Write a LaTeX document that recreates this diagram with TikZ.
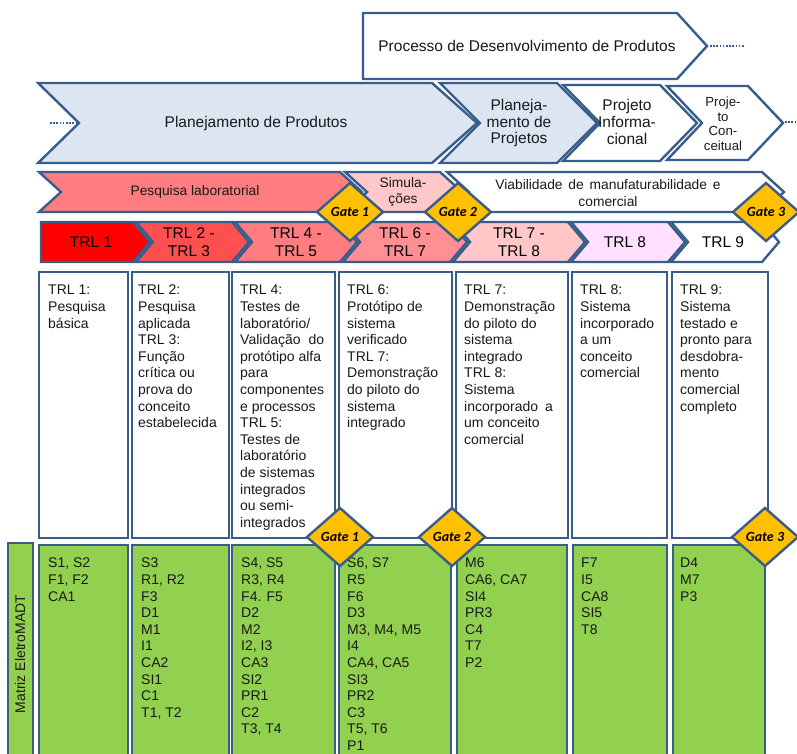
\documentclass[tikz,border=0pt]{standalone}
\usepackage{fontspec}
\setmainfont{Liberation Sans}
\newfontfamily\gatefont{Carlito}
\definecolor{bdr}{RGB}{56,93,138}
\definecolor{lblue}{RGB}{220,230,242}
\definecolor{salmon}{RGB}{255,124,128}
\definecolor{lpink}{RGB}{255,199,199}
\definecolor{trlA}{RGB}{255,0,0}
\definecolor{trlB}{RGB}{255,80,80}
\definecolor{trlC}{RGB}{255,124,128}
\definecolor{trlD}{RGB}{255,143,146}
\definecolor{trlE}{RGB}{255,199,199}
\definecolor{trlF}{RGB}{255,224,255}
\definecolor{gold}{RGB}{255,192,0}
\definecolor{lgreen}{RGB}{146,208,80}
\definecolor{txt}{RGB}{25,25,25}
\newcommand\chevron[7]{\path[bd,fill=#1] (#2,#6) -- (#4,#6) -- (#4+#5,{(#6+#7)/2}) -- (#4,#7) -- (#2,#7) -- (#2+#3,{(#6+#7)/2}) -- cycle;}
\newcommand\gatemark[4]{\path[bd,fill=gold] (#1-33,#2) -- (#1,#2-29) -- (#1+33,#2) -- (#1,#2+29) -- cycle;
  \node[gatetxt] (#3) at (#1,#2) {#4};}
\begin{document}
\begin{tikzpicture}[x=1pt,y=-1pt,
  bd/.style={draw=bdr,line width=2.4pt,line join=miter,miter limit=10},
  big/.style={font=\fontsize{15.5}{16.6}\selectfont,text=txt,align=center,inner sep=0},
  mid/.style={font=\fontsize{13.8}{16.2}\selectfont,text=txt,align=center,inner sep=0},
  small/.style={font=\fontsize{13.2}{14.5}\selectfont,text=txt,align=center,inner sep=0},
  trltxt/.style={font=\fontsize{15.5}{18}\selectfont,text=black,align=center,inner sep=0},
  gatetxt/.style={font=\gatefont\bfseries\itshape\fontsize{14}{14}\selectfont,text=black,inner sep=0},
  desc/.style={font=\fontsize{14}{16.6}\selectfont,text=txt,align=left,anchor=north west,inner sep=0},
  dots/.style={draw=bdr,line width=2pt,dash pattern=on 1.6pt off 1.6pt},
  colbox/.style={bd,fill=white},
  grbox/.style={bd,fill=lgreen}]
\useasboundingbox (0,0) rectangle (797,754);
\clip (0,0) rectangle (797,754);

% top process arrow
\chevron{white}{363}{0}{677}{30}{13}{79}
\node[big] (pdp) at (527,46) {Processo de Desenvolvimento de Produtos};
\coordinate (pdpA) at (710,46);
\coordinate (pdpB) at (744,46);
\draw[dots] (pdpA) -- (pdpB);

% phase chevrons
\chevron{lblue}{38}{41}{432}{45}{83}{163}
\node[big] (pp) at (256,123) {Planejamento de Produtos};
\chevron{lblue}{440}{40}{557}{40}{83}{163}
\node[big] (pj) at (519,123) {Planeja-\\mento de\\Projetos};
\chevron{white}{563}{37}{660}{37}{85}{161}
\node[big] (pi) at (627,122) {Projeto\\Informa-\\cional};
\chevron{white}{667}{35}{748}{35}{86}{160}
\node[small] (pc) at (723,124) {Proje-\\to\\Con-\\ceitual};
\coordinate (lA) at (50,123);
\coordinate (lB) at (76,123);
\draw[dots] (lA) -- (lB);
\coordinate (rA) at (785,122);
\coordinate (rB) at (797,122);
\draw[dots] (rA) -- (rB);

% research row
\chevron{salmon}{39}{22}{340}{22}{172}{212}
\node[mid] (pl) at (195,192) {Pesquisa laboratorial};
\chevron{lpink}{345}{22}{440}{22}{172}{212}
\node[mid] (sim) at (403,192) {Simula-\\ções};
\chevron{white}{447}{22}{762}{22}{172}{212}
\node[mid] (via) at (608,193) {Viabilidade\hspace{2pt} de\hspace{2pt} manufaturabilidade\hspace{2pt} e\\comercial};

% TRL row
\chevron{trlA}{41}{0}{133}{17}{222}{262}
\node[trltxt] (t1) at (91,242) {TRL 1};
\chevron{trlB}{136}{17}{232}{17}{222}{262}
\node[trltxt] (t23) at (189,242) {TRL 2 -\\TRL 3};
\chevron{trlC}{235}{17}{340}{17}{222}{262}
\node[trltxt] (t45) at (296,242) {TRL 4 -\\TRL 5};
\chevron{trlD}{343}{17}{450}{17}{222}{262}
\node[trltxt] (t67) at (405,242) {TRL 6 -\\TRL 7};
\chevron{trlE}{453}{17}{568}{17}{222}{262}
\node[trltxt] (t78) at (519,242) {TRL 7 -\\TRL 8};
\chevron{trlF}{571}{17}{668}{17}{222}{262}
\node[trltxt] (t8) at (625,242) {TRL 8};
\chevron{white}{671}{17}{762}{17}{222}{262}
\node[trltxt] (t9) at (723,242) {TRL 9};

% upper gates
\gatemark{350}{212}{gA}{Gate 1}
\gatemark{458}{212}{gB}{Gate 2}
\gatemark{766}{212}{gC}{Gate 3}

% description boxes
\draw[colbox] (39,272) rectangle (128,538);
\draw[colbox] (132,272) rectangle (229,538);
\draw[colbox] (232,272) rectangle (335,538);
\draw[colbox] (339,272) rectangle (452,538);
\draw[colbox] (456,272) rectangle (568,538);
\draw[colbox] (572,272) rectangle (667,538);
\draw[colbox] (672,272) rectangle (768,538);
\node[desc] (d1) at (48,285) {TRL 1:\\Pesquisa\\básica};
\node[desc] (d2) at (138,285) {TRL 2:\\Pesquisa\\aplicada\\TRL 3:\\Função\\crítica ou\\prova do\\conceito\\estabelecida};
\node[desc] (d3) at (240,285) {TRL 4:\\Testes de\\laboratório/\\Validação\hspace{4pt} do\\protótipo alfa\\para\\componentes\\e processos\\TRL 5:\\Testes de\\laboratório\\de sistemas\\integrados\\ou semi-\\integrados};
\node[desc] (d4) at (347,285) {TRL 6:\\Protótipo de\\sistema\\verificado\\TRL 7:\\Demonstração\\do piloto do\\sistema\\integrado};
\node[desc] (d5) at (464,285) {TRL 7:\\Demonstração\\do piloto do\\sistema\\integrado\\TRL 8:\\Sistema\\incorporado\hspace{3pt} a\\um conceito\\comercial};
\node[desc] (d6) at (580,285) {TRL 8:\\Sistema\\incorporado\\a um\\conceito\\comercial};
\node[desc] (d7) at (680,285) {TRL 9:\\Sistema\\testado e\\pronto para\\desdobra-\\mento\\comercial\\completo};

% green matrix
\draw[grbox] (8,543) rectangle (33,760);
\node[font=\fontsize{14}{16}\selectfont,text=txt,rotate=90,inner sep=0] (mx) at (20,654) {Matriz EletroMADT};
\draw[grbox] (39,545) rectangle (128,760);
\draw[grbox] (132,545) rectangle (229,760);
\draw[grbox] (232,545) rectangle (335,760);
\draw[grbox] (339,545) rectangle (451,760);
\draw[grbox] (457,545) rectangle (567,760);
\draw[grbox] (573,545) rectangle (667,760);
\draw[grbox] (673,545) rectangle (765,760);
\node[desc] (m1) at (48,558) {S1, S2\\F1, F2\\CA1};
\node[desc] (m2) at (141,558) {S3\\R1, R2\\F3\\D1\\M1\\I1\\CA2\\SI1\\C1\\T1, T2};
\node[desc] (m3) at (241,558) {S4, S5\\R3, R4\\F4. F5\\D2\\M2\\I2, I3\\CA3\\SI2\\PR1\\C2\\T3, T4};
\node[desc] (m4) at (347,558) {S6, S7\\R5\\F6\\D3\\M3, M4, M5\\I4\\CA4, CA5\\SI3\\PR2\\C3\\T5, T6\\P1};
\node[desc] (m5) at (465,558) {M6\\CA6, CA7\\SI4\\PR3\\C4\\T7\\P2};
\node[desc] (m6) at (581,558) {F7\\I5\\CA8\\SI5\\T8};
\node[desc] (m7) at (680,558) {D4\\M7\\P3};

% lower gates
\gatemark{340}{537}{gD}{Gate 1}
\gatemark{452}{537}{gE}{Gate 2}
\gatemark{765}{537}{gF}{Gate 3}
\end{tikzpicture}
\end{document}
